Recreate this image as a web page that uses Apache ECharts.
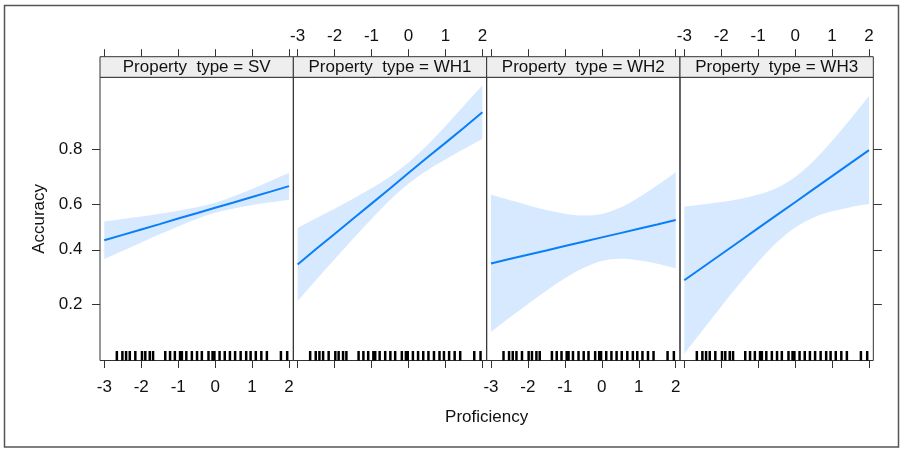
<!DOCTYPE html>
<html><head><meta charset="utf-8">
<script src="https://cdn.jsdelivr.net/npm/echarts@6/dist/echarts.min.js"></script>
<style>html,body{margin:0;padding:0;background:#fff}#c{width:903px;height:450px}</style>
</head><body><div id="c"></div>
<script>
// ---- data (probabilities) ----
const panelNames = ['SV', 'WH1', 'WH2', 'WH3'];
const xs = [-3, -2.5, -2, -1.5, -1, -0.5, 0, 0.5, 1, 1.5, 2];

const fitSV = [0.441, 0.465, 0.489, 0.513, 0.538, 0.561, 0.585, 0.608, 0.631, 0.653, 0.675];
const lowSV = [0.361, 0.396, 0.432, 0.468, 0.503, 0.536, 0.563, 0.582, 0.597, 0.609, 0.620];
const uppSV = [0.525, 0.536, 0.547, 0.559, 0.572, 0.587, 0.607, 0.634, 0.664, 0.695, 0.725];

const fitWH1 = [0.339, 0.403, 0.469, 0.537, 0.603, 0.666, 0.724, 0.775, 0.818, 0.855, 0.886];
const lowWH1 = [0.211, 0.280, 0.360, 0.448, 0.536, 0.618, 0.684, 0.733, 0.770, 0.801, 0.828];
const uppWH1 = [0.496, 0.539, 0.581, 0.624, 0.667, 0.711, 0.760, 0.811, 0.858, 0.897, 0.926];

const fitWH2 = [0.343, 0.361, 0.379, 0.397, 0.416, 0.435, 0.454, 0.473, 0.492, 0.511, 0.531];
const lowWH2 = [0.133, 0.165, 0.202, 0.243, 0.286, 0.325, 0.353, 0.362, 0.356, 0.342, 0.324];
const uppWH2 = [0.641, 0.618, 0.596, 0.575, 0.559, 0.551, 0.558, 0.586, 0.629, 0.678, 0.727];

const fitWH3 = [0.279, 0.328, 0.381, 0.437, 0.495, 0.553, 0.609, 0.663, 0.713, 0.758, 0.798];
const lowWH3 = [0.094, 0.137, 0.195, 0.267, 0.349, 0.431, 0.498, 0.543, 0.570, 0.588, 0.601];
const uppWH3 = [0.590, 0.599, 0.610, 0.623, 0.641, 0.668, 0.710, 0.765, 0.823, 0.873, 0.912];

const rugX = [-2.66, -2.51, -2.41, -2.31, -2.16, -1.98, -1.89, -1.77, -1.68, -1.35, -1.22, -1.09, -0.95, -0.9,
  -0.78, -0.63, -0.49, -0.36, -0.18, -0.07, -0.02, 0.12, 0.26, 0.40, 0.54, 0.69, 0.84, 0.96, 1.10, 1.25, 1.40, 1.78, 1.95];

const xTickValues = [-3, -2, -1, 0, 1, 2];
const yTickValues = [0.2, 0.4, 0.6, 0.8];

// ---- build ----
const fits = [fitSV, fitWH1, fitWH2, fitWH3];
const lows = [lowSV, lowWH1, lowWH2, lowWH3];
const upps = [uppSV, uppWH1, uppWH2, uppWH3];

const logit = p => Math.log(p / (1 - p));
const invLogit = v => 1 / (1 + Math.exp(-v));

const FONT = 'Liberation Sans, Arial, sans-serif';
const FS = 17;
const TXT = '#111';
const AX = '#333';
const PL = 100, PW = 193.33, PT = 77.3, PH = 283.2, STRIP = 20.6;
const X_MIN = -3.116, X_MAX = 2.116;
const Y_MIN = -2.383, Y_MAX = 2.674;
const LINE = '#0a7ef7', BAND = '#d6e9ff';

// smooth (Catmull-Rom) path segments through projected pixel points
function smoothSegs(pts) {
  let d = '';
  const n = pts.length;
  for (let k = 0; k < n - 1; k++) {
    const p0 = pts[Math.max(k - 1, 0)], p1 = pts[k], p2 = pts[k + 1], p3 = pts[Math.min(k + 2, n - 1)];
    const c1 = [p1[0] + (p2[0] - p0[0]) / 6, p1[1] + (p2[1] - p0[1]) / 6];
    const c2 = [p2[0] - (p3[0] - p1[0]) / 6, p2[1] - (p3[1] - p1[1]) / 6];
    d += ' C' + c1[0] + ',' + c1[1] + ' ' + c2[0] + ',' + c2[1] + ' ' + p2[0] + ',' + p2[1];
  }
  return d;
}

const grids = [], xAxes = [], yAxes = [], series = [], graphics = [];
for (let i = 0; i < 4; i++) {
  const left = PL + i * PW;
  grids.push({left: left, top: PT, width: PW, height: PH, show: true, borderColor: AX, borderWidth: 1, backgroundColor: 'transparent'});
  xAxes.push({
    gridIndex: i, type: 'value', position: 'bottom', min: X_MIN, max: X_MAX,
    axisLine: {show: false, onZero: false}, splitLine: {show: false},
    axisTick: {show: true, inside: false, length: 7.5, customValues: xTickValues, lineStyle: {color: AX}},
    axisLabel: {show: i % 2 === 0, customValues: xTickValues, margin: 18.5, color: TXT, fontSize: FS, fontFamily: FONT}
  });
  xAxes.push({
    gridIndex: i, type: 'value', position: 'top', offset: STRIP, min: X_MIN, max: X_MAX,
    axisLine: {show: false, onZero: false}, splitLine: {show: false},
    axisTick: {show: true, inside: false, length: 7.5, customValues: xTickValues, lineStyle: {color: AX}},
    axisLabel: {show: i % 2 === 1, customValues: xTickValues, margin: 12, color: TXT, fontSize: FS, fontFamily: FONT}
  });
  const yA = {
    gridIndex: i, type: 'value', min: Y_MIN, max: Y_MAX,
    axisLine: {show: false, onZero: false}, splitLine: {show: false},
    axisTick: {show: false}, axisLabel: {show: false}
  };
  if (i === 0) {
    yA.position = 'left';
    yA.axisTick = {show: true, length: 8, customValues: yTickValues.map(logit), lineStyle: {color: AX}};
    yA.axisLabel = {show: true, customValues: yTickValues.map(logit), margin: 17.5, color: TXT, fontSize: FS, fontFamily: FONT,
      formatter: v => invLogit(v).toFixed(1)};
    yA.name = 'Accuracy'; yA.nameLocation = 'middle'; yA.nameGap = 52;
    yA.nameTextStyle = {color: TXT, fontSize: FS, fontFamily: FONT};
  }
  if (i === 3) {
    yA.position = 'right';
    yA.axisTick = {show: true, length: 8.5, customValues: yTickValues.map(logit), lineStyle: {color: AX}};
  }
  yAxes.push(yA);

  // confidence band: lower points then upper points, projected by the axes
  const bandData = xs.map((x, k) => [x, logit(lows[i][k]), logit(upps[i][k])]);
  series.push({
    type: 'custom', xAxisIndex: 2 * i, yAxisIndex: i, silent: true, z: 1,
    data: bandData,
    encode: {x: 0, y: [1, 2]},
    renderItem: (params, api) => {
      if (params.dataIndex !== 0) return null;
      const n = bandData.length, lo = [], hi = [];
      for (let j = 0; j < n; j++) {
        lo.push(api.coord([api.value(0, j), api.value(1, j)]));
        hi.push(api.coord([api.value(0, j), api.value(2, j)]));
      }
      hi.reverse();
      const d = 'M' + lo[0][0] + ',' + lo[0][1] + smoothSegs(lo) +
        ' L' + hi[0][0] + ',' + hi[0][1] + smoothSegs(hi) + ' Z';
      return {type: 'path', shape: {pathData: d}, style: {fill: BAND}};
    }
  });
  series.push({
    type: 'line', xAxisIndex: 2 * i, yAxisIndex: i,
    data: xs.map((x, k) => [x, logit(fits[i][k])]), symbol: 'none',
    lineStyle: {color: LINE, width: 2}, silent: true, z: 3
  });
  series.push({
    type: 'custom', xAxisIndex: 2 * i, yAxisIndex: i, silent: true, z: 4,
    data: rugX.map(v => [v, Y_MIN]),
    renderItem: (params, api) => {
      const p = api.coord([api.value(0), api.value(1)]);
      return {type: 'line', shape: {x1: p[0], y1: p[1], x2: p[0], y2: p[1] - 9.5},
        style: {stroke: '#000', lineWidth: 2.5}};
    }
  });

  graphics.push({
    type: 'rect', shape: {x: left, y: PT - STRIP, width: PW, height: STRIP},
    style: {fill: '#eeeeee', stroke: AX, lineWidth: 1}, z: 10
  });
  graphics.push({
    type: 'text', x: left + PW / 2, y: PT - STRIP / 2 + 0.5, z: 11,
    style: {text: 'Property  type = ' + panelNames[i], align: 'center', verticalAlign: 'middle',
      font: FS + 'px ' + FONT, fill: TXT}
  });
}
graphics.push({
  type: 'text', x: PL + 2 * PW, y: 417, z: 11,
  style: {text: 'Proficiency', align: 'center', verticalAlign: 'middle', font: FS + 'px ' + FONT, fill: TXT}
});
graphics.push({
  type: 'rect', shape: {x: 4.5, y: 5.5, width: 894, height: 441.5},
  style: {fill: 'none', stroke: '#555', lineWidth: 1.5}, z: 0
});

const chart = echarts.init(document.getElementById('c'), null, {renderer: 'canvas'});
chart.setOption({
  animation: false,
  backgroundColor: '#fff',
  grid: grids, xAxis: xAxes, yAxis: yAxes, series: series, graphic: graphics
});
</script></body></html>
